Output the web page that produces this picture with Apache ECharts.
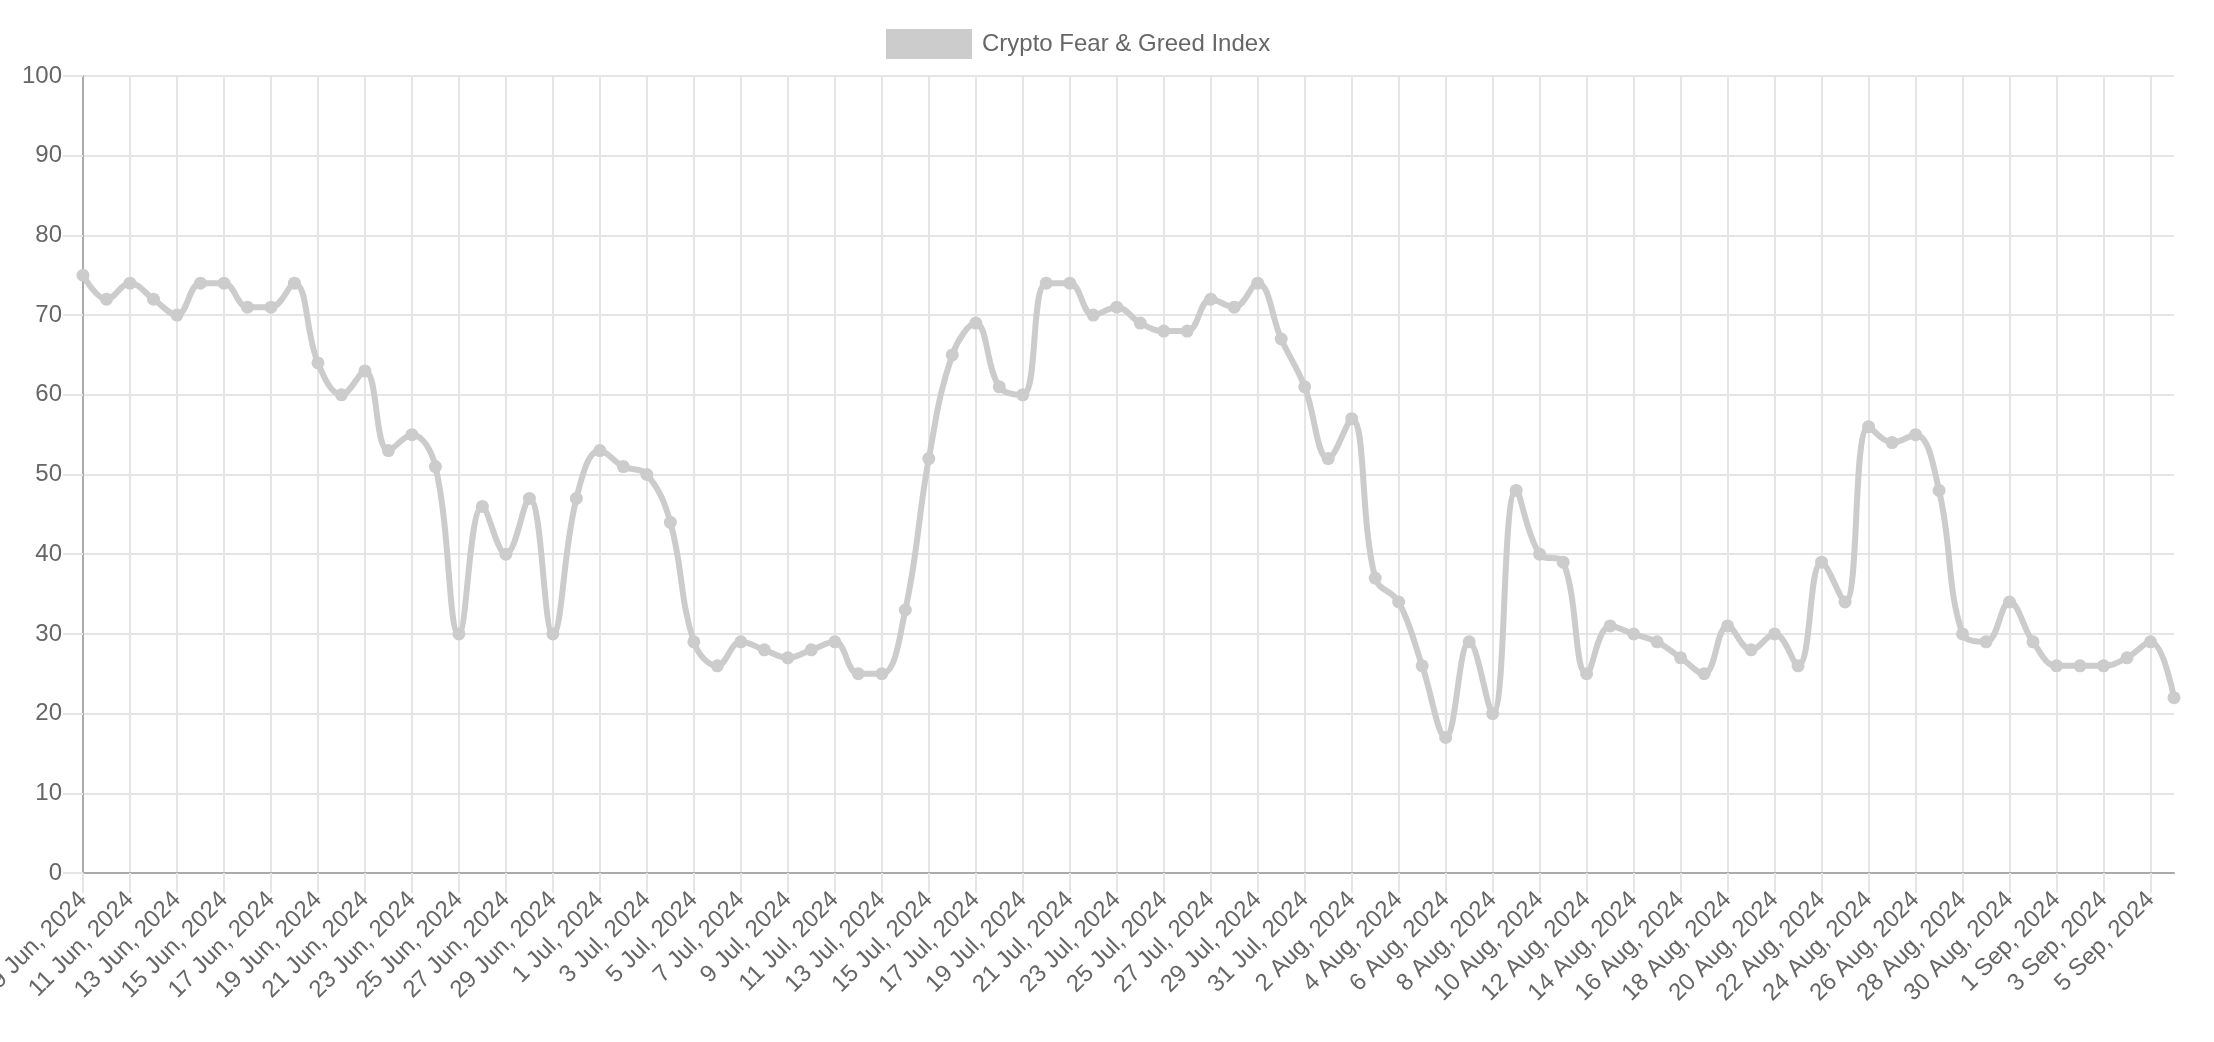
<!DOCTYPE html>
<html>
<head>
<meta charset="utf-8">
<script src="https://cdn.jsdelivr.net/npm/echarts@6/dist/echarts.min.js"></script>
<style>
html,body{margin:0;padding:0;background:#fff;}
#chart{width:2214px;height:1042px;}
</style>
</head>
<body>
<div id="chart"></div>
<script>
const seriesName = 'Crypto Fear & Greed Index';

const categories = [
  '9 Jun, 2024','10 Jun, 2024','11 Jun, 2024','12 Jun, 2024','13 Jun, 2024','14 Jun, 2024','15 Jun, 2024',
  '16 Jun, 2024','17 Jun, 2024','18 Jun, 2024','19 Jun, 2024','20 Jun, 2024','21 Jun, 2024','22 Jun, 2024',
  '23 Jun, 2024','24 Jun, 2024','25 Jun, 2024','26 Jun, 2024','27 Jun, 2024','28 Jun, 2024','29 Jun, 2024',
  '30 Jun, 2024',
  '1 Jul, 2024','2 Jul, 2024','3 Jul, 2024','4 Jul, 2024','5 Jul, 2024','6 Jul, 2024','7 Jul, 2024',
  '8 Jul, 2024','9 Jul, 2024','10 Jul, 2024','11 Jul, 2024','12 Jul, 2024','13 Jul, 2024','14 Jul, 2024',
  '15 Jul, 2024','16 Jul, 2024','17 Jul, 2024','18 Jul, 2024','19 Jul, 2024','20 Jul, 2024','21 Jul, 2024',
  '22 Jul, 2024','23 Jul, 2024','24 Jul, 2024','25 Jul, 2024','26 Jul, 2024','27 Jul, 2024','28 Jul, 2024',
  '29 Jul, 2024','30 Jul, 2024','31 Jul, 2024',
  '1 Aug, 2024','2 Aug, 2024','3 Aug, 2024','4 Aug, 2024','5 Aug, 2024','6 Aug, 2024','7 Aug, 2024',
  '8 Aug, 2024','9 Aug, 2024','10 Aug, 2024','11 Aug, 2024','12 Aug, 2024','13 Aug, 2024','14 Aug, 2024',
  '15 Aug, 2024','16 Aug, 2024','17 Aug, 2024','18 Aug, 2024','19 Aug, 2024','20 Aug, 2024','21 Aug, 2024',
  '22 Aug, 2024','23 Aug, 2024','24 Aug, 2024','25 Aug, 2024','26 Aug, 2024','27 Aug, 2024','28 Aug, 2024',
  '29 Aug, 2024','30 Aug, 2024','31 Aug, 2024',
  '1 Sep, 2024','2 Sep, 2024','3 Sep, 2024','4 Sep, 2024','5 Sep, 2024','6 Sep, 2024'
];

const valuesJun = [75,72,74,72,70,74,74,71,71,74,64,60,63,53,55,51,30,46,40,47,30,47];
const valuesJul = [53,51,50,44,29,26,29,28,27,28,29,25,25,33,52,65,69,61,60,74,74,70,71,69,68,68,72,71,74,67,61];
const valuesAug = [52,57,37,34,26,17,29,20,48,40,39,25,31,30,29,27,25,31,28,30,26,39,34,56,54,55,48,30,29,34,29];
const valuesSep = [26,26,26,27,29,22];

const yTicks = { min: 0, max: 100, interval: 10 };

const values = valuesJun.concat(valuesJul, valuesAug, valuesSep);

const FONT = "'Liberation Sans', Arial, Helvetica, sans-serif";
const chart = echarts.init(document.getElementById('chart'), null, { renderer: 'canvas' });

chart.setOption({
  animation: false,
  backgroundColor: '#ffffff',
  textStyle: { fontFamily: FONT },
  legend: {
    data: [seriesName],
    left: 886,
    top: 29,
    padding: 0,
    icon: 'rect',
    itemWidth: 86,
    itemHeight: 30,
    itemStyle: { color: '#cccccc', borderWidth: 0 },
    textStyle: { color: '#666666', fontSize: 24, fontFamily: FONT, padding: [0, 0, 0, 5] }
  },
  grid: { left: 83, right: 40, top: 76, bottom: 169, containLabel: false, outerBoundsMode: 'none' },
  xAxis: {
    type: 'category',
    data: categories,
    boundaryGap: false,
    axisLine: { show: true, lineStyle: { color: '#aaaaaa', width: 2 } },
    axisTick: { show: true, interval: 1, length: 20, lineStyle: { color: '#e5e5e5', width: 2 } },
    axisLabel: {
      interval: 1,
      rotate: 45,
      margin: 23,
      color: '#666666',
      fontSize: 24,
      fontFamily: FONT
    },
    splitLine: { show: true, interval: 1, lineStyle: { color: '#e5e5e5', width: 2 } }
  },
  yAxis: {
    type: 'value',
    min: yTicks.min,
    max: yTicks.max,
    interval: yTicks.interval,
    axisLine: { show: true, lineStyle: { color: '#aaaaaa', width: 2 } },
    axisTick: { show: true, length: 20, lineStyle: { color: '#e5e5e5', width: 2 } },
    axisLabel: { margin: 21, color: '#666666', fontSize: 24, fontFamily: FONT },
    splitLine: { show: true, lineStyle: { color: '#e5e5e5', width: 2 } }
  },
  series: [{
    name: seriesName,
    type: 'line',
    data: values,
    smooth: 0.4,
    symbol: 'circle',
    symbolSize: 13,
    showSymbol: true,
    itemStyle: { color: '#cccccc' },
    lineStyle: { color: '#cccccc', width: 6 }
  }]
});
</script>
</body>
</html>
